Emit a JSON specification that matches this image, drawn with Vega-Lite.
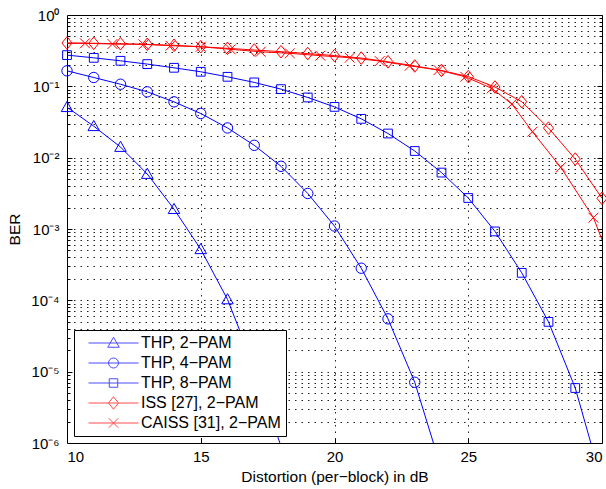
{
  "$schema": "https://vega.github.io/schema/vega-lite/v6.json",
  "width": 535,
  "height": 428,
  "autosize": {"type": "none"},
  "padding": {"left": 67, "top": 15, "right": 4, "bottom": 46},
  "config": {
    "view": {"stroke": "#000", "strokeWidth": 1},
    "font": "Liberation Sans",
    "axis": {
      "labelFont": "Liberation Sans",
      "titleFont": "Liberation Sans",
      "labelColor": "#000",
      "titleColor": "#000",
      "titleFontWeight": "normal",
      "tickColor": "#000",
      "tickWidth": 1,
      "gridColor": "#222",
      "gridDash": [1.5, 5],
      "gridWidth": 1,
      "domain": false
    }
  },
  "data": {
    "values": [
      {"s": "THP, 2−PAM", "x": 10, "y": 0.051},
      {"s": "THP, 2−PAM", "x": 11, "y": 0.0276},
      {"s": "THP, 2−PAM", "x": 12, "y": 0.0141},
      {"s": "THP, 2−PAM", "x": 13, "y": 0.0059},
      {"s": "THP, 2−PAM", "x": 14, "y": 0.0019},
      {"s": "THP, 2−PAM", "x": 15, "y": 0.00052},
      {"s": "THP, 2−PAM", "x": 16, "y": 0.000103},
      {"s": "THP, 2−PAM", "x": 17, "y": 0.0000115},
      {"s": "THP, 2−PAM", "x": 18, "y": 0.0000009},
      {"s": "THP, 4−PAM", "x": 10, "y": 0.165},
      {"s": "THP, 4−PAM", "x": 11, "y": 0.133},
      {"s": "THP, 4−PAM", "x": 12, "y": 0.107},
      {"s": "THP, 4−PAM", "x": 13, "y": 0.0837},
      {"s": "THP, 4−PAM", "x": 14, "y": 0.0606},
      {"s": "THP, 4−PAM", "x": 15, "y": 0.0416},
      {"s": "THP, 4−PAM", "x": 16, "y": 0.0261},
      {"s": "THP, 4−PAM", "x": 17, "y": 0.0149},
      {"s": "THP, 4−PAM", "x": 18, "y": 0.00757},
      {"s": "THP, 4−PAM", "x": 19, "y": 0.00315},
      {"s": "THP, 4−PAM", "x": 20, "y": 0.0011},
      {"s": "THP, 4−PAM", "x": 21, "y": 0.000282},
      {"s": "THP, 4−PAM", "x": 22, "y": 0.000055},
      {"s": "THP, 4−PAM", "x": 23, "y": 0.0000071},
      {"s": "THP, 4−PAM", "x": 24, "y": 0.00000043},
      {"s": "THP, 8−PAM", "x": 10, "y": 0.274},
      {"s": "THP, 8−PAM", "x": 11, "y": 0.251},
      {"s": "THP, 8−PAM", "x": 12, "y": 0.228},
      {"s": "THP, 8−PAM", "x": 13, "y": 0.205},
      {"s": "THP, 8−PAM", "x": 14, "y": 0.182},
      {"s": "THP, 8−PAM", "x": 15, "y": 0.16},
      {"s": "THP, 8−PAM", "x": 16, "y": 0.136},
      {"s": "THP, 8−PAM", "x": 17, "y": 0.1135},
      {"s": "THP, 8−PAM", "x": 18, "y": 0.0914},
      {"s": "THP, 8−PAM", "x": 19, "y": 0.0698},
      {"s": "THP, 8−PAM", "x": 20, "y": 0.0515},
      {"s": "THP, 8−PAM", "x": 21, "y": 0.035},
      {"s": "THP, 8−PAM", "x": 22, "y": 0.0218},
      {"s": "THP, 8−PAM", "x": 23, "y": 0.0124},
      {"s": "THP, 8−PAM", "x": 24, "y": 0.00618},
      {"s": "THP, 8−PAM", "x": 25, "y": 0.00272},
      {"s": "THP, 8−PAM", "x": 26, "y": 0.000925},
      {"s": "THP, 8−PAM", "x": 27, "y": 0.000243},
      {"s": "THP, 8−PAM", "x": 28, "y": 0.0000499},
      {"s": "THP, 8−PAM", "x": 29, "y": 0.0000059},
      {"s": "THP, 8−PAM", "x": 30, "y": 0.00000028},
      {"s": "ISS [27], 2−PAM", "x": 10, "y": 0.405},
      {"s": "ISS [27], 2−PAM", "x": 11, "y": 0.401},
      {"s": "ISS [27], 2−PAM", "x": 12, "y": 0.395},
      {"s": "ISS [27], 2−PAM", "x": 13, "y": 0.388},
      {"s": "ISS [27], 2−PAM", "x": 14, "y": 0.376},
      {"s": "ISS [27], 2−PAM", "x": 15, "y": 0.359},
      {"s": "ISS [27], 2−PAM", "x": 16, "y": 0.341},
      {"s": "ISS [27], 2−PAM", "x": 17, "y": 0.323},
      {"s": "ISS [27], 2−PAM", "x": 18, "y": 0.306},
      {"s": "ISS [27], 2−PAM", "x": 19, "y": 0.288},
      {"s": "ISS [27], 2−PAM", "x": 20, "y": 0.27},
      {"s": "ISS [27], 2−PAM", "x": 21, "y": 0.249},
      {"s": "ISS [27], 2−PAM", "x": 22, "y": 0.221},
      {"s": "ISS [27], 2−PAM", "x": 23, "y": 0.193},
      {"s": "ISS [27], 2−PAM", "x": 24, "y": 0.167},
      {"s": "ISS [27], 2−PAM", "x": 25, "y": 0.137},
      {"s": "ISS [27], 2−PAM", "x": 26, "y": 0.0978},
      {"s": "ISS [27], 2−PAM", "x": 27, "y": 0.0608},
      {"s": "ISS [27], 2−PAM", "x": 28, "y": 0.026},
      {"s": "ISS [27], 2−PAM", "x": 29, "y": 0.00955},
      {"s": "ISS [27], 2−PAM", "x": 30, "y": 0.00269},
      {"s": "CAISS [31], 2−PAM", "x": 9.6, "y": 0.405},
      {"s": "CAISS [31], 2−PAM", "x": 10.67, "y": 0.401},
      {"s": "CAISS [31], 2−PAM", "x": 11.7, "y": 0.392},
      {"s": "CAISS [31], 2−PAM", "x": 12.86, "y": 0.388},
      {"s": "CAISS [31], 2−PAM", "x": 13.87, "y": 0.371},
      {"s": "CAISS [31], 2−PAM", "x": 15.0, "y": 0.359},
      {"s": "CAISS [31], 2−PAM", "x": 16.12, "y": 0.33},
      {"s": "CAISS [31], 2−PAM", "x": 17.24, "y": 0.305},
      {"s": "CAISS [31], 2−PAM", "x": 18.33, "y": 0.29},
      {"s": "CAISS [31], 2−PAM", "x": 19.47, "y": 0.269},
      {"s": "CAISS [31], 2−PAM", "x": 20.57, "y": 0.252},
      {"s": "CAISS [31], 2−PAM", "x": 21.69, "y": 0.226},
      {"s": "CAISS [31], 2−PAM", "x": 22.81, "y": 0.194},
      {"s": "CAISS [31], 2−PAM", "x": 23.89, "y": 0.169},
      {"s": "CAISS [31], 2−PAM", "x": 24.89, "y": 0.136},
      {"s": "CAISS [31], 2−PAM", "x": 25.88, "y": 0.0937},
      {"s": "CAISS [31], 2−PAM", "x": 26.63, "y": 0.0565},
      {"s": "CAISS [31], 2−PAM", "x": 27.4, "y": 0.0231},
      {"s": "CAISS [31], 2−PAM", "x": 28.46, "y": 0.00731},
      {"s": "CAISS [31], 2−PAM", "x": 29.68, "y": 0.00144},
      {"s": "CAISS [31], 2−PAM", "x": 30.8, "y": 0.00012}
    ]
  },
  "resolve": {"axis": {"x": "independent", "y": "independent"}},
  "layer": [
    {
      "mark": {"type": "point", "opacity": 0},
      "encoding": {
        "x": {"field": "x", "type": "quantitative", "scale": {"domain": [10, 30], "nice": false, "zero": false},
          "axis": {"orient": "top", "values": [15, 20, 25], "tickSize": -5, "labels": false, "grid": false, "title": null}},
        "y": {"field": "y", "type": "quantitative", "scale": {"type": "log", "domain": [0.000001, 1], "nice": false},
          "axis": {"orient": "right", "values": [0.000001, 0.00001, 0.0001, 0.001, 0.01, 0.1, 1], "tickSize": -5, "labels": false, "grid": false, "title": null}}
      }
    },
    {
      "mark": {"type": "point", "opacity": 0},
      "encoding": {
        "x": {"field": "x", "type": "quantitative", "scale": {"domain": [10, 30], "nice": false, "zero": false},
          "axis": {"orient": "bottom", "values": [15, 20, 25], "tickSize": -5, "labels": false, "grid": true, "title": null}},
        "y": {"field": "y", "type": "quantitative", "scale": {"type": "log", "domain": [0.000001, 1], "nice": false},
          "axis": {"orient": "right", "values": [2e-6,3e-6,4e-6,5e-6,6e-6,7e-6,8e-6,9e-6,2e-5,3e-5,4e-5,5e-5,6e-5,7e-5,8e-5,9e-5,2e-4,3e-4,4e-4,5e-4,6e-4,7e-4,8e-4,9e-4,2e-3,3e-3,4e-3,5e-3,6e-3,7e-3,8e-3,9e-3,2e-2,3e-2,4e-2,5e-2,6e-2,7e-2,8e-2,9e-2,0.2,0.3,0.4,0.5,0.6,0.7,0.8,0.9], "tickSize": -3, "labels": false, "grid": false, "title": null}}
      }
    },
    {
      "mark": {"type": "point", "opacity": 0},
      "encoding": {
        "x": {"field": "x", "type": "quantitative", "scale": {"domain": [10, 30], "nice": false, "zero": false}, "axis": null},
        "y": {"field": "y", "type": "quantitative", "scale": {"type": "log", "domain": [0.000001, 1], "nice": false},
          "axis": {"orient": "left", "values": [2e-6,3e-6,4e-6,5e-6,6e-6,7e-6,8e-6,9e-6,2e-5,3e-5,4e-5,5e-5,6e-5,7e-5,8e-5,9e-5,2e-4,3e-4,4e-4,5e-4,6e-4,7e-4,8e-4,9e-4,2e-3,3e-3,4e-3,5e-3,6e-3,7e-3,8e-3,9e-3,2e-2,3e-2,4e-2,5e-2,6e-2,7e-2,8e-2,9e-2,0.2,0.3,0.4,0.5,0.6,0.7,0.8,0.9], "tickSize": -3, "labels": false, "grid": true, "title": null}}
      }
    },
    {
      "mark": {"type": "point", "opacity": 0},
      "encoding": {
        "x": {"field": "x", "type": "quantitative", "scale": {"domain": [10, 30], "nice": false, "zero": false}, "axis": null},
        "y": {"field": "y", "type": "quantitative", "scale": {"type": "log", "domain": [0.000001, 1], "nice": false},
          "axis": {"orient": "left", "values": [0.00001, 0.0001, 0.001, 0.01, 0.1], "tickSize": -5, "labels": false, "grid": true, "title": null}}
      }
    },
    {
      "transform": [{"filter": "indexof(datum.s, 'THP') >= 0"}],
      "mark": {"type": "line", "clip": true, "strokeWidth": 1, "color": "#0000ff"},
      "encoding": {
        "x": {"field": "x", "type": "quantitative", "scale": {"domain": [10, 30], "nice": false, "zero": false},
          "axis": {"orient": "bottom", "values": [10, 15, 20, 25, 30], "ticks": false, "labelPadding": 6, "labelFontSize": 15, "title": "Distortion (per−block) in dB", "titleFontSize": 15.5, "titlePadding": 5}},
        "y": {"field": "y", "type": "quantitative", "scale": {"type": "log", "domain": [0.000001, 1], "nice": false},
          "axis": {"orient": "left", "values": [0.000001, 0.00001, 0.0001, 0.001, 0.01, 0.1, 1], "ticks": false, "labelPadding": 8, "labelFontSize": 15,
            "labelExpr": "'10' + ['⁻⁶','⁻⁵','⁻⁴','⁻³','⁻²','⁻¹','⁰'][round(log(datum.value)/LN10)+6]",
            "title": "BER", "titleFontSize": 15.5, "titlePadding": 8}},
        "detail": {"field": "s", "type": "nominal"},
        "order": {"field": "x", "type": "quantitative"}
      }
    },
    {
      "transform": [{"filter": "indexof(datum.s, 'THP') < 0"}],
      "mark": {"type": "line", "clip": true, "strokeWidth": 1, "color": "#ff0000"},
      "encoding": {
        "x": {"field": "x", "type": "quantitative", "scale": {"domain": [10, 30], "nice": false, "zero": false}, "axis": null},
        "y": {"field": "y", "type": "quantitative", "scale": {"type": "log", "domain": [0.000001, 1], "nice": false}, "axis": null},
        "detail": {"field": "s", "type": "nominal"},
        "order": {"field": "x", "type": "quantitative"}
      }
    },
    {
      "transform": [{"filter": "datum.s === 'THP, 2−PAM' && datum.x >= 10 && datum.x <= 30 && datum.y >= 0.000001"}],
      "mark": {"type": "point", "shape": "M0,-1.05L1.05,0.8L-1.05,0.8Z", "color": "#0000ff", "filled": false, "size": 120, "strokeWidth": 1, "opacity": 1},
      "encoding": {
        "x": {"field": "x", "type": "quantitative", "scale": {"domain": [10, 30], "nice": false, "zero": false}, "axis": null},
        "y": {"field": "y", "type": "quantitative", "scale": {"type": "log", "domain": [0.000001, 1], "nice": false}, "axis": null}
      }
    },
    {
      "transform": [{"filter": "datum.s === 'THP, 4−PAM' && datum.x >= 10 && datum.x <= 30 && datum.y >= 0.000001"}],
      "mark": {"type": "point", "shape": "M0.95,0A0.95,0.95 0 1,1 -0.95,0A0.95,0.95 0 1,1 0.95,0Z", "color": "#0000ff", "filled": false, "size": 120, "strokeWidth": 1, "opacity": 1},
      "encoding": {
        "x": {"field": "x", "type": "quantitative", "scale": {"domain": [10, 30], "nice": false, "zero": false}, "axis": null},
        "y": {"field": "y", "type": "quantitative", "scale": {"type": "log", "domain": [0.000001, 1], "nice": false}, "axis": null}
      }
    },
    {
      "transform": [{"filter": "datum.s === 'THP, 8−PAM' && datum.x >= 10 && datum.x <= 30 && datum.y >= 0.000001"}],
      "mark": {"type": "point", "shape": "M-0.8,-0.8H0.8V0.8H-0.8Z", "color": "#0000ff", "filled": false, "size": 120, "strokeWidth": 1, "opacity": 1},
      "encoding": {
        "x": {"field": "x", "type": "quantitative", "scale": {"domain": [10, 30], "nice": false, "zero": false}, "axis": null},
        "y": {"field": "y", "type": "quantitative", "scale": {"type": "log", "domain": [0.000001, 1], "nice": false}, "axis": null}
      }
    },
    {
      "transform": [{"filter": "datum.s === 'ISS [27], 2−PAM' && datum.x >= 10 && datum.x <= 30 && datum.y >= 0.000001"}],
      "mark": {"type": "point", "shape": "M0,-1.15L0.92,0L0,1.15L-0.92,0Z", "color": "#ff0000", "filled": false, "size": 120, "strokeWidth": 1, "opacity": 1},
      "encoding": {
        "x": {"field": "x", "type": "quantitative", "scale": {"domain": [10, 30], "nice": false, "zero": false}, "axis": null},
        "y": {"field": "y", "type": "quantitative", "scale": {"type": "log", "domain": [0.000001, 1], "nice": false}, "axis": null}
      }
    },
    {
      "transform": [{"filter": "datum.s === 'CAISS [31], 2−PAM' && datum.x >= 10 && datum.x <= 30 && datum.y >= 0.000001"}],
      "mark": {"type": "point", "shape": "M-0.9,-0.9L0.9,0.9M-0.9,0.9L0.9,-0.9", "color": "#ff0000", "filled": false, "size": 120, "strokeWidth": 1, "opacity": 1},
      "encoding": {
        "x": {"field": "x", "type": "quantitative", "scale": {"domain": [10, 30], "nice": false, "zero": false}, "axis": null},
        "y": {"field": "y", "type": "quantitative", "scale": {"type": "log", "domain": [0.000001, 1], "nice": false}, "axis": null}
      }
    },
    {
      "transform": [{"filter": "false"}],
      "mark": {"type": "point", "filled": false, "size": 2500, "strokeWidth": 1},
      "encoding": {
        "x": {"field": "x", "type": "quantitative", "scale": {"domain": [10, 30], "nice": false, "zero": false}, "axis": null},
        "y": {"field": "y", "type": "quantitative", "scale": {"type": "log", "domain": [0.000001, 1], "nice": false}, "axis": null},
        "color": {"field": "s", "type": "nominal",
          "scale": {"domain": ["THP, 2−PAM", "THP, 4−PAM", "THP, 8−PAM", "ISS [27], 2−PAM", "CAISS [31], 2−PAM"], "range": ["#0000ff", "#0000ff", "#0000ff", "#ff0000", "#ff0000"]},
          "legend": {"title": null, "orient": "bottom-left", "offset": 7, "padding": 5,
            "strokeColor": "#000", "fillColor": "#fff",
            "labelFont": "Liberation Sans", "labelFontSize": 16, "labelColor": "#000",
            "rowPadding": 4, "clipHeight": 16, "symbolOffset": 9, "labelOffset": 2, "symbolSize": 2500, "symbolStrokeWidth": 1}},
        "shape": {"field": "s", "type": "nominal",
          "scale": {"domain": ["THP, 2−PAM", "THP, 4−PAM", "THP, 8−PAM", "ISS [27], 2−PAM", "CAISS [31], 2−PAM"],
            "range": ["M-1,0H1M0,-0.23L0.23,0.17L-0.23,0.17Z", "M-1,0H1M0.2,0A0.2,0.2 0 1,1 -0.2,0A0.2,0.2 0 1,1 0.2,0Z", "M-1,0H1M-0.17,-0.17H0.17V0.17H-0.17Z", "M-1,0H1M0,-0.25L0.2,0L0,0.25L-0.2,0Z", "M-1,0H1M-0.19,-0.19L0.19,0.19M-0.19,0.19L0.19,-0.19"]},
          "legend": {"title": null, "orient": "bottom-left", "offset": 7, "padding": 5,
            "strokeColor": "#000", "fillColor": "#fff",
            "labelFont": "Liberation Sans", "labelFontSize": 16, "labelColor": "#000",
            "rowPadding": 4, "clipHeight": 16, "symbolOffset": 9, "labelOffset": 2, "symbolSize": 2500, "symbolStrokeWidth": 1}}
      }
    }
  ]
}
